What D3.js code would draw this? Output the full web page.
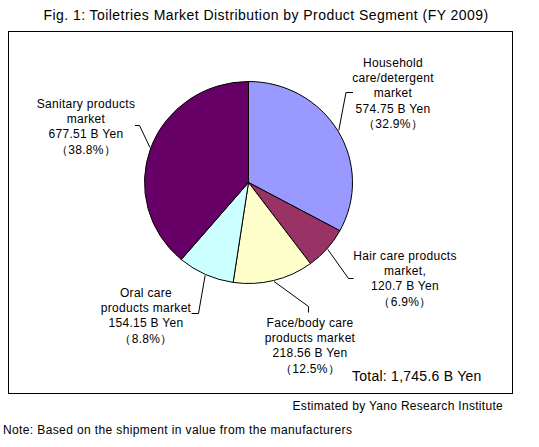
<!DOCTYPE html>
<html><head><meta charset="utf-8">
<script src="https://cdn.jsdelivr.net/npm/d3@7"></script>
<style>
html,body{margin:0;padding:0;background:#fff;}
text{font-family:Arial,"Liberation Sans",sans-serif;fill:#000;}
</style></head>
<body>
<svg id="c" width="539" height="447"></svg>
<script>
const segments = ["Household care/detergent market","Hair care products market","Face/body care products market","Oral care products market","Sanitary products market"];
const values = [574.75, 120.7, 218.56, 154.15, 677.51];
const shares = ["32.9%","6.9%","12.5%","8.8%","38.8%"];
const totalValue = 1745.6;
const labelLines = [
  ["Household","care/detergent","market","574.75 B Yen","（32.9%）"],
  ["Hair care products","market,","120.7 B Yen","（6.9%）"],
  ["Face/body care","products market","218.56 B Yen","（12.5%）"],
  ["Oral care","products market","154.15 B Yen","（8.8%）"],
  ["Sanitary products","market","677.51 B Yen","（38.8%）"]
];
const colors = ["#9999FF","#993366","#FFFFCC","#CCFFFF","#660066"];

// layout (label anchor, first baseline, leader elbow points)
const layout = [
  {x:393, y:67, lead:[[346,92.5],[353,92.5]]},
  {x:405, y:260, lead:[[348.5,278.5],[353.5,278.5]]},
  {x:310, y:327, lead:[[308.5,306.5],[308.5,312.5]]},
  {x:146, y:297, lead:[[198.5,313.5],[191.5,313.5]]},
  {x:86, y:108, lead:[[139.5,125.5],[135,125.5]]}
];

const svg = d3.select("#c");
svg.append("text").attr("x",266).attr("y",20).attr("text-anchor","middle")
  .style("font-size","14px").style("letter-spacing","0.45px")
  .text("Fig. 1: Toiletries Market Distribution by Product Segment (FY 2009)");
svg.append("rect").attr("x",8.5).attr("y",31.5).attr("width",504).attr("height",362)
  .attr("fill","#fff").attr("stroke","#000").attr("stroke-width",1);

const cx = 248.5, cy = 182.5, r = 104, ry = 101;
const pie = d3.pie().sort(null).value(d=>d);
const arcs = pie(values);
const arc = d3.arc().innerRadius(0).outerRadius(r);
const g = svg.append("g").attr("transform",`translate(${cx},${cy}) scale(1,${ry/r})`);
g.selectAll("path").data(arcs).join("path")
  .attr("d",arc).attr("fill",(d,i)=>colors[i])
  .attr("stroke","#000").attr("stroke-width",1).attr("vector-effect","non-scaling-stroke");

arcs.forEach((a,i)=>{
  const m = (a.startAngle + a.endAngle)/2;
  const sx = cx + (r+1)*Math.sin(m), sy = cy - (ry+1)*Math.cos(m);
  const pts = [[sx,sy]].concat(layout[i].lead);
  svg.append("path").attr("d",d3.line()(pts)).attr("fill","none").attr("stroke","#000").attr("stroke-width",1);
  const t = svg.append("text").attr("text-anchor","middle").style("font-size","12px").style("letter-spacing","0.3px");
  labelLines[i].forEach((l,j)=>{
    t.append("tspan").attr("x",layout[i].x).attr("y",layout[i].y + j*15.2).text(l);
  });
});

svg.append("text").attr("x",352).attr("y",381).style("font-size","14px").style("letter-spacing","0.25px")
  .text("Total: " + d3.format(",.1f")(totalValue) + " B Yen");
svg.append("text").attr("x",503).attr("y",410).attr("text-anchor","end")
  .style("font-size","12px").style("letter-spacing","0.3px").text("Estimated by Yano Research Institute");
svg.append("text").attr("x",3).attr("y",434)
  .style("font-size","12px").style("letter-spacing","0.38px").text("Note: Based on the shipment in value from the manufacturers");
</script>
</body></html>
